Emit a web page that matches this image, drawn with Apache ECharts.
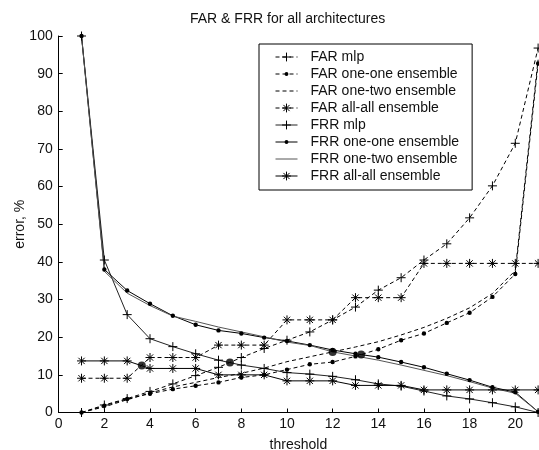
<!DOCTYPE html>
<html>
<head>
<meta charset="utf-8">
<script src="https://cdn.jsdelivr.net/npm/echarts@6/dist/echarts.min.js"></script>
<style>
html,body{margin:0;padding:0;background:#fff;}
#chart{width:539px;height:450px;}
</style>
</head>
<body>
<div id="chart"></div>
<script>
var thresholds = [1,2,3,4,5,6,7,8,9,10,11,12,13,14,15,16,17,18,19,20,21];
var farMlp     = [0, 2.0, 3.7, 5.6, 7.6, 9.8, 12.0, 14.6, 17.0, 19.2, 21.4, 24.6, 28.0, 32.5, 35.8, 40.5, 44.8, 51.7, 60.2, 71.5, 96.8];
var farOneOne  = [0, 1.8, 3.6, 5.0, 6.2, 7.1, 8.0, 9.3, 10.0, 11.4, 12.8, 13.4, 14.9, 16.8, 19.2, 21.0, 23.8, 26.5, 30.7, 36.8, 92.7];
var farOneTwo  = [0, 1.5, 3.4, 5.2, 6.8, 8.0, 9.3, 10.4, 11.8, 13.5, 14.8, 16.1, 17.4, 18.8, 20.6, 22.6, 25.0, 27.8, 31.6, 37.7, 93.7];
var farAllAll  = [9.1, 9.1, 9.1, 14.6, 14.6, 14.6, 17.9, 17.9, 17.9, 24.6, 24.6, 24.6, 30.5, 30.5, 30.5, 39.6, 39.6, 39.6, 39.6, 39.6, 39.6];
var frrMlp     = [100, 40.5, 26.0, 19.6, 17.5, 15.6, 13.9, 12.6, 11.7, 10.6, 10.2, 9.6, 8.7, 7.6, 7.0, 5.7, 4.4, 3.6, 2.6, 1.5, 0];
var frrOneOne  = [100, 38.0, 32.4, 28.9, 25.7, 23.3, 21.8, 21.0, 19.9, 19.0, 17.9, 16.6, 15.6, 14.7, 13.4, 12.0, 10.3, 8.6, 6.7, 5.4, 0.2];
var frrOneTwo  = [100, 37.5, 31.7, 28.4, 25.6, 24.2, 22.7, 21.4, 20.1, 18.7, 17.8, 16.1, 15.0, 13.9, 12.6, 11.2, 9.8, 8.2, 6.5, 5.1, 0.2];
var frrAllAll  = [13.7, 13.7, 13.7, 11.7, 11.7, 11.7, 10.0, 10.0, 10.0, 8.4, 8.4, 8.4, 7.2, 7.2, 7.2, 6.0, 6.0, 6.0, 6.0, 6.0, 6.0];
var eerX = [3.64, 7.5, 12.0, 13.25];
var eerY = [12.5, 13.3, 16.1, 15.4];
var xTicks = [0,2,4,6,8,10,12,14,16,18,20];
var yTicks = [0,10,20,30,40,50,60,70,80,90,100];

var FONT = 'Liberation Sans, Arial, sans-serif';
var FS = 14;
var PLUS = 'path://M0,5L10,5M5,0L5,10';
var STAR = 'path://M0,5L10,5M5,0L5,10M1.5,1.5L8.5,8.5M8.5,1.5L1.5,8.5';
var DOT  = 'path://M0,0L10,10M2.8,5A2.2,2.2,0,1,1,7.2,5A2.2,2.2,0,1,1,2.8,5Z';

function pairs(ys){ return thresholds.map(function(x,i){ return [x, ys[i]]; }); }

function mk(name, ys, dashed, sym, color){
  var s = {
    name: name, type: 'line', data: pairs(ys),
    lineStyle: { color: color || '#000', width: 1, type: dashed ? [4,3] : 'solid' },
    symbol: 'none', showSymbol: true,
    itemStyle: { color: color || '#000' },
    emphasis: { disabled: true },
    animation: false, z: 3
  };
  if (sym === 'plus') { s.symbol = PLUS; s.symbolSize = 9; s.itemStyle = { color: 'none', borderColor: '#000', borderWidth: 1 }; }
  else if (sym === 'star') { s.symbol = STAR; s.symbolSize = 9; s.itemStyle = { color: 'none', borderColor: '#000', borderWidth: 1 }; }
  else if (sym === 'dot') { s.symbol = DOT; s.symbolSize = 10; s.itemStyle = { color: '#000', borderWidth: 0 }; }
  return s;
}

var names = ['FAR mlp','FAR one-one ensemble','FAR one-two ensemble','FAR all-all ensemble',
             'FRR mlp','FRR one-one ensemble','FRR one-two ensemble','FRR all-all ensemble'];
var kinds = ['plus','dot',null,'star','plus','dot',null,'star'];

var series = [
  mk(names[0], farMlp, true, kinds[0]),
  mk(names[1], farOneOne, true, kinds[1]),
  mk(names[2], farOneTwo, true, kinds[2]),
  mk(names[3], farAllAll, true, kinds[3]),
  mk(names[4], frrMlp, false, kinds[4], '#222'),
  mk(names[5], frrOneOne, false, kinds[5]),
  mk(names[6], frrOneTwo, false, kinds[6], '#555'),
  mk(names[7], frrAllAll, false, kinds[7]),
  { name: 'EER', type: 'scatter', data: eerX.map(function(x,i){ return [x, eerY[i]]; }),
    symbol: 'circle', symbolSize: 8, itemStyle: { color: '#000' }, z: 4, animation: false }
];

var legendData = names.map(function(n, i){
  var k = kinds[i];
  if (k === null) return { name: n, itemStyle: { color: 'rgba(0,0,0,0)', borderWidth: 0, opacity: 0 } };
  if (k === 'dot') return { name: n, itemStyle: { color: '#000', borderWidth: 0 } };
  return { name: n, itemStyle: { color: 'none', borderColor: '#000', borderWidth: 1 } };
});

var chart = echarts.init(document.getElementById('chart'), null, { renderer: 'canvas' });
chart.setOption({
  backgroundColor: '#fff',
  animation: false,
  title: {
    text: 'FAR & FRR for all architectures',
    left: 190, top: 12, padding: 0,
    textStyle: { fontFamily: FONT, fontSize: FS, fontWeight: 'normal', color: '#111' }
  },
  legend: {
    data: legendData,
    orient: 'vertical',
    left: 259, top: 44,
    padding: [6, 13, 7, 16],
    itemWidth: 22, itemHeight: 11, itemGap: 3,
    borderColor: '#000', borderWidth: 1,
    backgroundColor: '#fff',
    selectedMode: false,
    itemStyle: { borderWidth: 1 },
    lineStyle: { width: 1 },
    textStyle: { fontFamily: FONT, fontSize: FS, color: '#111', lineHeight: 14, padding: [0,0,0,8] }
  },
  grid: { left: 58.7, right: 0.9, top: 36, bottom: 37.5, containLabel: false, outerBoundsMode: 'none' },
  xAxis: {
    type: 'value', min: 0, max: 21, interval: 2,
    name: 'threshold', nameLocation: 'middle', nameGap: 26, nameMoveOverlap: false,
    nameTextStyle: { fontFamily: FONT, fontSize: FS, color: '#111' },
    axisLine: { show: true, lineStyle: { color: '#000', width: 1 } },
    axisTick: { show: true, inside: true, length: 4, lineStyle: { color: '#000' } },
    axisLabel: { fontFamily: FONT, fontSize: FS, color: '#111', margin: 5, showMaxLabel: false,
      formatter: function(v){ return xTicks.indexOf(v) >= 0 ? String(v) : ''; } },
    splitLine: { show: false }
  },
  yAxis: {
    type: 'value', min: 0, max: 100, interval: 10,
    name: 'error, %', nameLocation: 'middle', nameGap: 32, nameRotate: 90, nameMoveOverlap: false,
    nameTextStyle: { fontFamily: FONT, fontSize: FS, color: '#111' },
    axisLine: { show: true, lineStyle: { color: '#000', width: 1 } },
    axisTick: { show: true, inside: true, length: 4, lineStyle: { color: '#000' } },
    axisLabel: { fontFamily: FONT, fontSize: FS, color: '#111', margin: 6,
      formatter: function(v){ return yTicks.indexOf(v) >= 0 ? String(v) : ''; } },
    splitLine: { show: false }
  },
  series: series
});
</script>
</body>
</html>
